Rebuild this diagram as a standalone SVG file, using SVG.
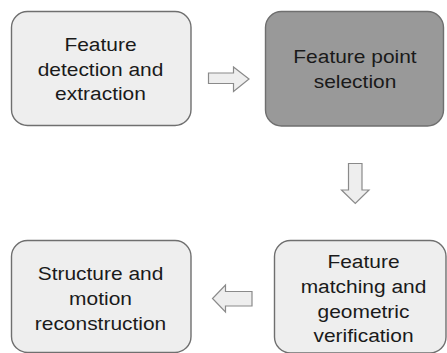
<svg xmlns="http://www.w3.org/2000/svg" width="447" height="353" viewBox="0 0 447 353">
<style>
.box{fill:#eeeeee;stroke:#6f6f6f;stroke-width:1.4}
.dark{fill:#999999}
.arr{fill:#eeeeee;stroke:#8a8a8a;stroke-width:1.2;stroke-linejoin:miter}
text{font-family:"Liberation Sans",Arial,sans-serif;font-size:18.7px;fill:#1a1a1a;text-anchor:middle}
</style>
<rect width="447" height="353" fill="#ffffff"/>
<g id="n1">
<rect class="box" x="11.5" y="11.5" width="179.5" height="114" rx="16"/>
<g transform="translate(100.5,0) scale(1.12,1)">
<text x="0" y="50.7">Feature</text>
<text x="0" y="75.6">detection and</text>
<text x="0" y="100.3">extraction</text>
</g>
</g>
<g id="n2">
<rect class="box dark" x="265.5" y="11.5" width="178" height="114.5" rx="16"/>
<g transform="translate(355,0) scale(1.12,1)">
<text x="0" y="62.7">Feature point</text>
<text x="0" y="87.8">selection</text>
</g>
</g>
<g id="n3">
<rect class="box" x="11.5" y="240.5" width="179.5" height="112" rx="16"/>
<g transform="translate(100.5,0) scale(1.12,1)">
<text x="0" y="280.3">Structure and</text>
<text x="0" y="305.5">motion</text>
<text x="0" y="330.5">reconstruction</text>
</g>
</g>
<g id="n4">
<rect class="box" x="274.5" y="240.5" width="171.5" height="112.5" rx="16"/>
<g transform="translate(363.5,0) scale(1.12,1)">
<text x="0" y="268.5">Feature</text>
<text x="0" y="293.3">matching and</text>
<text x="0" y="317.8">geometric</text>
<text x="0" y="342.4">verification</text>
</g>
</g>
<g id="connectors">
<path class="arr" d="M208.5,73 H233.5 V67 L249,79 L233.5,91.5 V83.5 H208.5 Z"/>
<path class="arr" d="M348.5,163.5 H362 V190 H369 L355.3,203.5 L341.5,190 H348.5 Z"/>
<path class="arr" d="M252,291.5 H225.5 V285 L212.5,298.5 L225.5,312 V306 H252 Z"/>
</g>
</svg>
